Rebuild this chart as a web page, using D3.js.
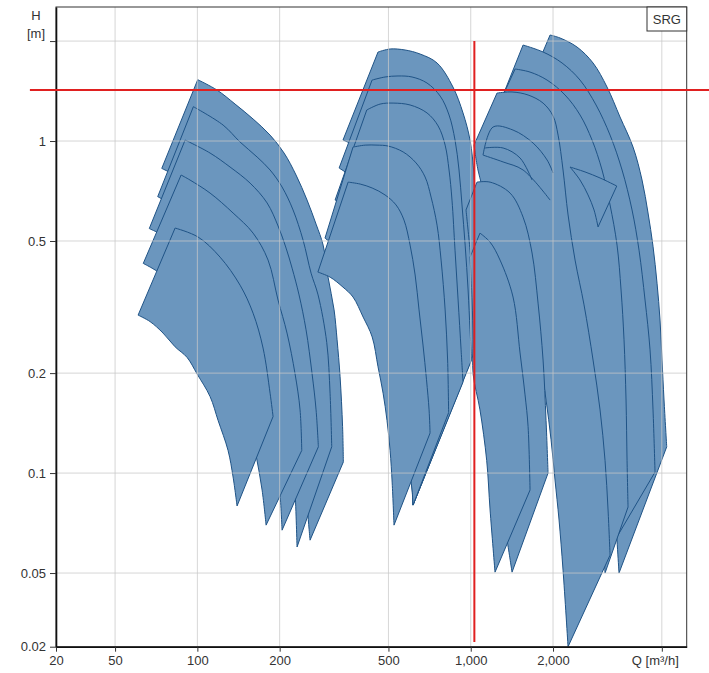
<!DOCTYPE html>
<html>
<head>
<meta charset="utf-8">
<script src="https://cdn.jsdelivr.net/npm/d3@7"></script>
<style>
  body { margin: 0; background: #fff; }
  svg { display: block; }
  .tick text { font-family: "Liberation Sans", Arial, sans-serif; font-size: 13px; fill: #333; }
  .lbl { font-family: "Liberation Sans", Arial, sans-serif; font-size: 13px; fill: #333; }
</style>
</head>
<body>
<div id="chart"></div>
<script>
// axis setup (the edge labels 20 and 0.02 sit on the axis ends, like the original)
const xDomain = [30.4, 6166];
const yDomain = [0.03, 2.533];
const xTicks = [30.4, 50, 100, 200, 500, 1000, 2000, 5000];
const xTickLabels = ["20", "50", "100", "200", "500", "1,000", "2,000", "Q [m³/h]"];
const yTicks = [0.03, 0.05, 0.1, 0.2, 0.5, 1, 2];
const yTickLabels = ["0.02", "0.05", "0.1", "0.2", "0.5", "1", ""];
const xGrid = [50, 100, 200, 500, 1000, 2000, 5000];
const yGrid = [0.05, 0.1, 0.2, 0.5, 1, 2];

// duty point crosshair
const dutyQ = 1031, dutyH = 1.424;
const dutyQSpan = [24.4, 7440];
const dutyHSpan = [2.0, 0.031];

// pump ranges: [Q m3/h, H m], top = max curve, bot = min curve (left corner -> tip)
// group 1
const g1aTop = [[100.3,1.53],[118.0,1.424],[137.4,1.292],[159.9,1.165],[184.5,1.042],[207.6,0.920],[229.6,0.790],[251.9,0.664],[271.8,0.562],[288.4,0.486],[300.7,0.389],[316.3,0.310],[324.4,0.252],[332.7,0.195],[339.8,0.138],[342,0.108]];
const g1aBot = [[74.1,0.827],[94.0,0.747],[109.4,0.683],[128.4,0.620],[147,0.558],[162.6,0.483],[176.9,0.429],[192.4,0.373],[205.8,0.325],[214.7,0.277],[223.9,0.219],[235.5,0.174],[241.5,0.141],[247.7,0.109],[253,0.0774],[258.4,0.0628]];
const g1bTop = [[96.7,1.269],[124.2,1.117],[143.3,0.993],[165.4,0.895],[184.5,0.818],[204.1,0.727],[223.9,0.620],[243.6,0.503],[260.6,0.400],[276.4,0.344],[297.4,0.247],[305.8,0.174],[310.1,0.120]];
const g1bBot = [[71.6,0.680],[92.5,0.599],[106.7,0.532],[123.1,0.482],[137.4,0.438],[152,0.386],[166.8,0.328],[181.4,0.264],[194.1,0.207],[205.8,0.180],[222.1,0.126],[227.7,0.0889],[231.6,0.0599]];
const g1cTop = [[90.2,1.007],[111.3,0.920],[131.7,0.835],[155.9,0.747],[179.9,0.651],[197.3,0.555],[211.1,0.476],[222.1,0.414],[235.5,0.344],[249.8,0.270],[262.8,0.199],[271.8,0.155],[277.1,0.120]];
const g1cBot = [[66.7,0.545],[82.2,0.500],[97.2,0.453],[115.1,0.406],[132.8,0.354],[145.7,0.301],[155.9,0.259],[164,0.224],[173.9,0.187],[184.5,0.146],[194.1,0.108],[200.7,0.0858],[204.1,0.0673]];
const g1dTop = [[87.2,0.790],[94.0,0.763],[111.3,0.697],[135.1,0.607],[159.9,0.528],[181.4,0.438],[197.3,0.332],[212.8,0.264],[227.7,0.199],[237.5,0.155],[240.9,0.117]];
const g1dBot = [[63.4,0.428],[68.3,0.414],[80.8,0.379],[98.1,0.329],[116.1,0.287],[131.7,0.238],[143.3,0.180],[154.6,0.143],[164,0.113],[172.5,0.0889],[178.4,0.0697]];
const g1eTop = [[82.9,0.547],[100.6,0.514],[121.1,0.447],[143.3,0.368],[159.9,0.303],[173.9,0.238],[184.5,0.174],[189.2,0.148]];
const g1eBot = [[60.7,0.299],[67.1,0.286],[74.9,0.264],[82.9,0.240],[91.7,0.223],[99.7,0.199],[111.3,0.170],[119.1,0.144],[129.5,0.117],[135.1,0.0973],[139.7,0.0796]];

// group 2
const g2aTop = [[458,1.854],[507,1.893],[575,1.880],[653,1.828],[753,1.718],[861,1.454],[937,1.215],[994,1.007],[1028,0.790],[1046,0.578],[1054,0.438],[1063,0.332],[1081,0.255]];
const g2aBot = [[341,1.007],[400,0.939],[486,0.790],[552,0.599],[585,0.409],[600,0.252],[605,0.144],[610,0.0966],[615,0.0801]];
const g2bTop = [[435.5,1.526],[486,1.559],[542,1.570],[610,1.559],[692,1.495],[773,1.366],[833,1.198],[876,1.007],[906,0.818],[929,0.642],[954,0.486],[978,0.356],[994,0.270],[1007,0.219]];
const g2bBot = [[330,0.829],[381,0.763],[458,0.642],[529,0.486],[570,0.332],[590,0.219],[600,0.135],[610,0.0953],[615,0.0801]];
const g2cTop = [[416.5,1.240],[466,1.292],[520,1.301],[600,1.284],[692,1.215],[760,1.110],[806,0.972],[833,0.818],[854,0.664],[876,0.469],[899,0.332],[922,0.235],[937,0.188]];
const g2cBot = [[319,0.664],[368,0.611],[436,0.521],[507,0.395],[552,0.289],[580,0.191],[595,0.126],[610,0.0920],[615,0.0801]];
const g2dTop = [[371,0.959],[411,0.972],[454,0.972],[498,0.966],[566,0.927],[631,0.859],[681,0.779],[716,0.678],[753,0.558],[779,0.438],[806,0.310],[823,0.219],[830,0.152]];
const g2dBot = [[293,0.510],[347,0.453],[411,0.381],[474,0.299],[529,0.219],[566,0.155],[590,0.109],[610,0.0889],[615,0.0801]];
const g2eTop = [[356,0.752],[394,0.742],[436,0.722],[486,0.688],[533,0.642],[570,0.578],[600,0.486],[626,0.395],[647,0.310],[669,0.243],[689,0.191],[704,0.155],[710,0.132]];
const g2eBot = [[276,0.403],[306,0.389],[341,0.363],[371,0.339],[404,0.295],[436,0.257],[458,0.209],[478,0.174],[494,0.144],[507,0.117],[516,0.0934],[524,0.0697]];

// group 3
const g3aTop = [[1951,2.086],[2122,2.043],[2448,1.919],[2802,1.718],[3152,1.454],[3517,1.181],[3924,0.959],[4233,0.763],[4452,0.607],[4643,0.482],[4803,0.373],[4925,0.289],[5009,0.219],[5094,0.166],[5211,0.120]];
const g3aBot = [[1416,1.117],[1648,1.007],[1951,0.847],[2270,0.664],[2575,0.469],[2849,0.310],[3074,0.191],[3260,0.117],[3372,0.0774],[3487,0.050]];
const g3bTop = [[1554,1.946],[1839,1.854],[2158,1.718],[2511,1.526],[2873,1.284],[3233,1.042],[3577,0.818],[3891,0.620],[4127,0.469],[4341,0.332],[4528,0.235],[4643,0.155],[4722,0.1007]];
const g3bBot = [[1313,1.376],[1515,1.117],[1793,0.939],[2122,0.737],[2408,0.539],[2686,0.356],[2922,0.219],[3126,0.135],[3288,0.0889],[3372,0.0628]];
const g3cTop = [[1453,1.648],[1648,1.613],[1902,1.526],[2213,1.376],[2511,1.198],[2778,1.007],[3022,0.818],[3233,0.642],[3429,0.486],[3547,0.356],[3637,0.252],[3699,0.166],[3731,0.109],[3762,0.0790]];
const g3cBot = [[1157,1.094],[1453,0.877],[1719,0.664],[2034,0.469],[2308,0.332],[2511,0.235],[2686,0.166],[2849,0.117],[2972,0.0829],[3048,0.0628],[3100,0.050]];
const g3kTop = [[2308,0.835],[2619,0.807],[2972,0.774],[3421,0.732]];
const g3kBot = [[2308,0.835],[2511,0.763],[2686,0.688],[2825,0.620],[2922,0.551]];
const g3dTop = [[1248,1.395],[1416,1.405],[1621,1.376],[1839,1.301],[2001,1.189],[2087,1.042],[2176,0.818],[2270,0.599],[2408,0.438],[2597,0.321],[2802,0.219],[2972,0.155],[3100,0.109],[3179,0.0774],[3233,0.0566]];
const g3dBot = [[1028,0.972],[1063,0.818],[1138,0.664],[1248,0.503],[1393,0.381],[1541,0.310],[1691,0.260],[1793,0.216],[1886,0.166],[1967,0.126],[2034,0.0953],[2104,0.0722],[2176,0.0510],[2270,0.030]];
const g3eTop = [[1054,0.752],[1177,0.752],[1393,0.697],[1554,0.590],[1676,0.460],[1763,0.325],[1839,0.219],[1886,0.144],[1918,0.100]];
const g3eBot = [[961,0.620],[994,0.469],[1028,0.332],[1063,0.235],[1119,0.166],[1197,0.117],[1280,0.0829],[1358,0.0628],[1416,0.0503]];
const g3fTop = [[1081,0.528],[1177,0.496],[1280,0.438],[1428,0.339],[1515,0.230],[1580,0.172],[1621,0.138],[1648,0.0889]];
const g3fBot = [[994,0.447],[1011,0.332],[1020,0.252],[1020,0.199],[1081,0.155],[1144,0.109],[1177,0.0774],[1227,0.0503]];

// extra curves inside group 3
const g3LineA = [[1109,0.907],[1207,1.102],[1428,1.079],[1691,0.986],[1902,0.877],[2001,0.801]];
const g3LineB = [[1128,0.953],[1313,0.953],[1515,0.889],[1676,0.763]];
const g3LineC = [[1109,0.907],[1313,0.865],[1554,0.818],[1951,0.664]];

// drawing order (bigger ranges first)
const pumps = [
    [g1aTop, g1aBot], [g1bTop, g1bBot], [g1cTop, g1cBot], [g1dTop, g1dBot], [g1eTop, g1eBot],
    [g2aTop, g2aBot], [g2bTop, g2bBot], [g2cTop, g2cBot], [g2dTop, g2dBot], [g2eTop, g2eBot],
    [g3aTop, g3aBot], [g3bTop, g3bBot], [g3cTop, g3cBot], [g3kTop, g3kBot], [g3dTop, g3dBot],
    [g3eTop, g3eBot], [g3fTop, g3fBot]
];
const innerLines = [g3LineA, g3LineB, g3LineC];

//1. SVG
const width = 709;
const height = 673;
const margin = {top: 7, left: 56, right: 22.3, bottom: 26.3};

const svg = d3.select("#chart")
    .append("svg")
    .attr("width", width)
    .attr("height", height);

//2. SCALES
const xScale = d3.scaleLog()
    .domain(xDomain)
    .range([margin.left, width - margin.right]);

const yScale = d3.scaleLog()
    .domain(yDomain)
    .range([height - margin.bottom, margin.top]);

const line = d3.line()
    .x(function(d) { return xScale(d[0]); })
    .y(function(d) { return yScale(d[1]); })
    .curve(d3.curveCatmullRom.alpha(0.5));

//3. PUMP RANGES
svg.append("g")
    .selectAll("path")
    .data(pumps)
    .enter()
    .append("path")
        .attr("d", function(p) {
            const back = p[1].slice().reverse();
            return line(p[0]) + line(back).replace("M", "L") + "Z";
        })
        .style("fill", "#6b96be")
        .style("stroke", "#1f5386")
        .style("stroke-width", 1)
        .style("stroke-linejoin", "round");

svg.append("g")
    .selectAll("path")
    .data(innerLines)
    .enter()
    .append("path")
        .attr("d", line)
        .style("fill", "none")
        .style("stroke", "#1f5386")
        .style("stroke-width", 1);

//4. GRID (on top, semi transparent)
const grid = svg.append("g").style("stroke", "#c8c8c8").style("stroke-opacity", 0.75).style("stroke-width", 1);
grid.selectAll(".gx").data(xGrid).enter().append("line")
    .attr("x1", d => xScale(d)).attr("x2", d => xScale(d))
    .attr("y1", margin.top).attr("y2", height - margin.bottom);
grid.selectAll(".gy").data(yGrid).enter().append("line")
    .attr("x1", margin.left).attr("x2", width - margin.right)
    .attr("y1", d => yScale(d)).attr("y2", d => yScale(d));

//5. FRAME + AXES
svg.append("rect")
    .attr("x", margin.left).attr("y", margin.top)
    .attr("width", width - margin.left - margin.right)
    .attr("height", height - margin.top - margin.bottom)
    .style("fill", "none").style("stroke", "#333").style("stroke-width", 1);

const xAxis = svg.append("g")
    .attr("transform", `translate(0,${height - margin.bottom})`)
    .call(d3.axisBottom(xScale).tickValues(xTicks)
        .tickFormat(function(d, i) { return xTickLabels[i]; })
        .tickSize(5).tickSizeOuter(0).tickPadding(4));

// unit label sits a bit left of its tick
xAxis.selectAll(".tick text")
    .filter(function(d, i) { return i === xTicks.length - 1; })
    .attr("dx", -7);

const yAxis = svg.append("g")
    .attr("transform", `translate(${margin.left},0)`)
    .call(d3.axisLeft(yScale).tickValues(yTicks)
        .tickFormat(function(d, i) { return yTickLabels[i]; })
        .tickSize(6).tickSizeOuter(0).tickPadding(4));

[xAxis, yAxis].forEach(function(a) {
    a.select(".domain").style("stroke", "#111").style("stroke-width", 1.6);
    a.selectAll(".tick line").style("stroke", "#333");
});

//6. LABELS
svg.append("text").attr("class", "lbl")
    .attr("x", 36).attr("y", 20).attr("text-anchor", "middle").text("H");
svg.append("text").attr("class", "lbl")
    .attr("x", 36).attr("y", 38).attr("text-anchor", "middle").text("[m]");

const boxW = 39.7, boxH = 24;
svg.append("rect")
    .attr("x", width - margin.right - boxW).attr("y", margin.top)
    .attr("width", boxW).attr("height", boxH)
    .style("fill", "#fff").style("stroke", "#333").style("stroke-width", 1);
svg.append("text").attr("class", "lbl")
    .attr("x", width - margin.right - boxW / 2).attr("y", margin.top + 17)
    .attr("text-anchor", "middle").text("SRG");

//7. DUTY POINT CROSSHAIR
svg.append("line")
    .attr("x1", xScale(dutyQSpan[0])).attr("x2", xScale(dutyQSpan[1]))
    .attr("y1", yScale(dutyH)).attr("y2", yScale(dutyH))
    .style("stroke", "#e02020").style("stroke-width", 2);
svg.append("line")
    .attr("x1", xScale(dutyQ)).attr("x2", xScale(dutyQ))
    .attr("y1", yScale(dutyHSpan[0])).attr("y2", yScale(dutyHSpan[1]))
    .style("stroke", "#e02020").style("stroke-width", 2);
</script>
</body>
</html>
